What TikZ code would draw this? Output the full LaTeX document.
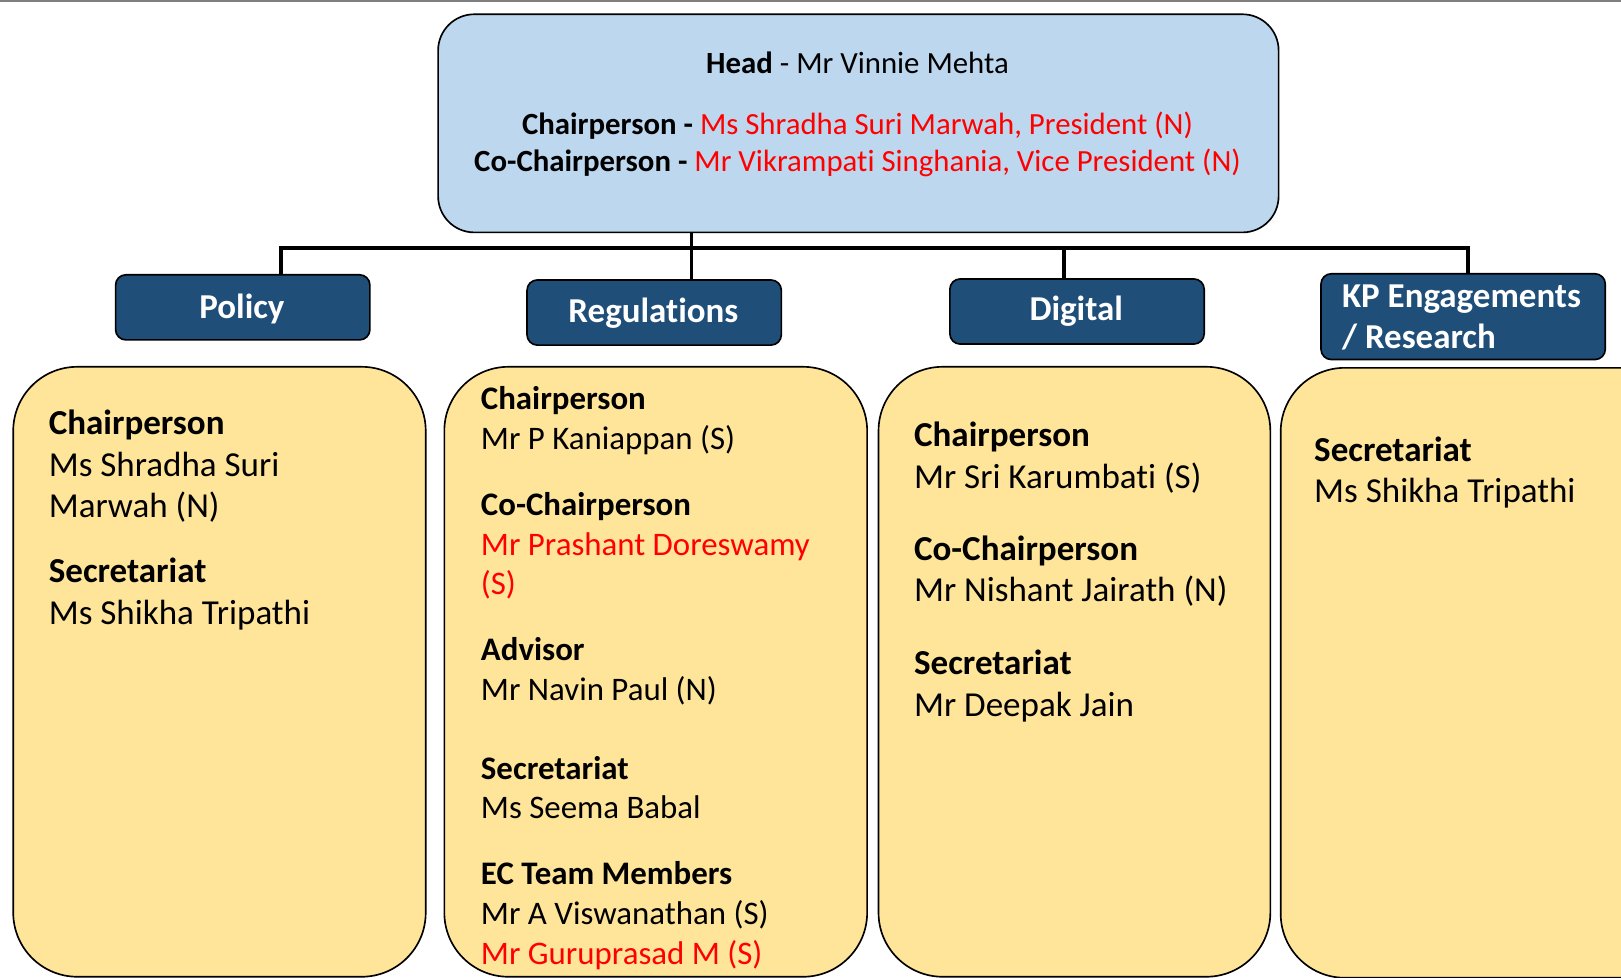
\documentclass[tikz,border=0pt]{standalone}
\usepackage{fontspec}
\setmainfont{Carlito}[RawFeature={-liga}]
\definecolor{headfill}{HTML}{BDD7EE}
\definecolor{boxblue}{HTML}{1F4E79}
\definecolor{boxyellow}{HTML}{FFE599}
\definecolor{topgray}{HTML}{7F7F7F}
\definecolor{nred}{HTML}{FF0000}
\newcommand\bodyfnt{\fontsize{33.9}{40}\selectfont}
\newcommand\regfnt{\fontsize{31.8}{38}\selectfont}
\newcommand\ttlfnt{\fontsize{33.8}{40}\selectfont}
\newcommand\headfnt{\fontsize{29.8}{36}\selectfont}
\begin{document}
\begin{tikzpicture}[x=1pt,y=-1pt,
  headbox/.style={draw=black,line width=1.6pt,fill=headfill,rounded corners=35pt,anchor=north west,inner sep=0pt},
  titlebox/.style={draw=black,line width=1.6pt,fill=boxblue,rounded corners=10pt,anchor=north west,inner sep=0pt,minimum width=246pt,minimum height=63pt},
  membox/.style={draw=black,line width=1.6pt,fill=boxyellow,rounded corners=62pt,anchor=north west,inner sep=0pt,minimum height=590pt},
  ttl/.style={text=white,font=\ttlfnt\bfseries,anchor=base,inner sep=0pt},
  ln/.style={anchor=base west,inner sep=0pt,font=\bodyfnt},
  hd/.style={ln,font=\bodyfnt\bfseries},
  rln/.style={anchor=base west,inner sep=0pt,font=\regfnt},
  rhd/.style={rln,font=\regfnt\bfseries},
  rrd/.style={rln,text=nred},
  htxt/.style={anchor=base,inner sep=0pt,font=\headfnt},
  conn/.style={draw=black,line width=3.5pt}
]
\useasboundingbox (0,0) rectangle (1568,946);
\begin{scope}
\clip (0,0) rectangle (1568,946);
\draw[topgray,line width=2pt] (0,1) -- (1568,1);

% head
\node[headbox,minimum width=813pt,minimum height=211pt] (head) at (423,13) {};
\node[htxt] (h1) at (829.5,71) {\textbf{Head} - Mr Vinnie Mehta};
\node[htxt] (h2) at (829.5,130) {\textbf{Chairperson -} \textcolor{nred}{Ms Shradha Suri Marwah, President (N)}};
\node[htxt] (h3) at (829.5,166) {\textbf{Co-Chairperson -} \textcolor{nred}{Mr Vikrampati Singhania, Vice President (N)}};

% title boxes
\node[titlebox] (pol) at (111,265) {};
\node[titlebox] (reg) at (509,270) {};
\node[titlebox] (dig) at (918,269) {};
\node[titlebox,minimum width=275pt,minimum height=83pt] (kp) at (1277,264) {};
\node[ttl] (polt) at (234,308) {Policy};
\node[ttl] (regt) at (632,312) {Regulations};
\node[ttl] (digt) at (1041,310) {Digital};
\node[ttl,anchor=base west] (kpt1) at (1298,297) {KP Engagements};
\node[ttl,anchor=base west] (kpt2) at (1298,337) {/ Research};

% connectors
\coordinate (j) at (669,240);
\coordinate (dp) at (272,240);
\coordinate (dd) at (1029,240);
\coordinate (dk) at (1420,240);
\draw[conn] (dp |- pol.north) -- (dp) -- (dk) -- (dk |- kp.north);
\draw[conn] (head.south -| j) -- (reg.north -| j);
\draw[conn] (dd) -- (dd |- dig.north);

% member boxes
\node[membox,minimum width=399pt] (polb) at (12,354) {};
\node[membox,minimum width=409pt] (regb) at (429,354) {};
\node[membox,minimum width=379pt] (digb) at (849,354) {};
\node[membox,minimum width=420pt] (kpb) at (1238,355) {};

% policy text
\node[hd] (p1) at (47,420) {Chairperson};
\node[ln] (p2) at (47,461) {Ms Shradha Suri};
\node[ln] (p3) at (47,501) {Marwah (N)};
\node[hd] (p4) at (47,563) {Secretariat};
\node[ln] (p5) at (47,604) {Ms Shikha Tripathi};

% regulations text
\node[rhd] (r1) at (465,396) {Chairperson};
\node[rln] (r2) at (465,435) {Mr P Kaniappan (S)};
\node[rhd] (r3) at (465,499) {Co-Chairperson};
\node[rrd] (r4) at (465,537) {Mr Prashant Doreswamy};
\node[rrd] (r5) at (465,575) {(S)};
\node[rhd] (r6) at (465,639) {Advisor};
\node[rln] (r7) at (465,678) {Mr Navin Paul (N)};
\node[rhd] (r8) at (465,754) {Secretariat};
\node[rln] (r9) at (465,792) {Ms Seema Babal};
\node[rhd] (r10) at (465,856) {EC Team Members};
\node[rln] (r11) at (465,894) {Mr A Viswanathan (S)};
\node[rrd] (r12) at (465,933) {Mr Guruprasad M (S)};

% digital text
\node[hd] (d1) at (884,432) {Chairperson};
\node[ln] (d2) at (884,473) {Mr Sri Karumbati (S)};
\node[hd] (d3) at (884,542) {Co-Chairperson};
\node[ln] (d4) at (884,582) {Mr Nishant Jairath (N)};
\node[hd] (d5) at (884,652) {Secretariat};
\node[ln] (d6) at (884,693) {Mr Deepak Jain};

% kp text
\node[hd] (k1) at (1271,446) {Secretariat};
\node[ln] (k2) at (1271,486) {Ms Shikha Tripathi};
\end{scope}
\end{tikzpicture}
\end{document}
